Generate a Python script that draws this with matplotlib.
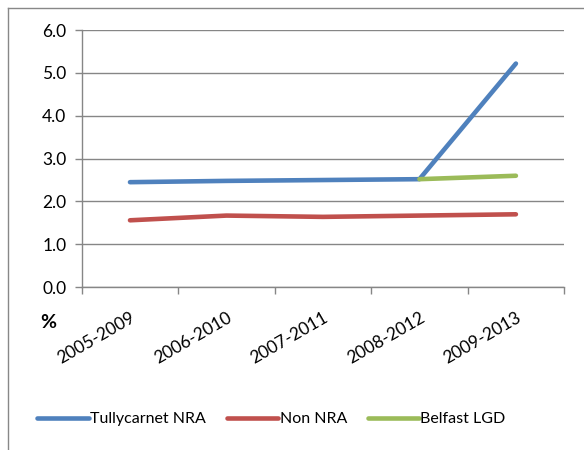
import numpy as np
import matplotlib
matplotlib.use('Agg')
import matplotlib.pyplot as plt
from matplotlib.lines import Line2D

# Datos
periods = ['2005-2009', '2006-2010', '2007-2011', '2008-2012', '2009-2013']
tullycarnet = [2.45, 2.48, 2.50, 2.52, 5.22]
non_nra = [1.56, 1.67, 1.64, 1.67, 1.70]
belfast = [np.nan, np.nan, np.nan, 2.52, 2.60]
y_ticks = [0.0, 1.0, 2.0, 3.0, 4.0, 5.0, 6.0]

plt.rcParams['font.family'] = ['Lato', 'DejaVu Sans']

fig = plt.figure(figsize=(5.84, 4.5), dpi=100)
ax = fig.add_axes([0.140, 0.362, 0.826, 0.571])

x = np.arange(len(periods))
lw = 3.3
ax.plot(x, tullycarnet, color='#4F81BD', lw=lw, solid_capstyle='round', zorder=3)
ax.plot(x, non_nra, color='#C0504D', lw=lw, solid_capstyle='round', zorder=3)
ax.plot(x, belfast, color='#9BBB59', lw=lw, solid_capstyle='round', zorder=4)

ax.set_xlim(-0.5, len(periods) - 0.5)
ax.set_ylim(0, 6)
ax.set_yticks(y_ticks)
ax.set_yticklabels([f'{v:.1f}' for v in y_ticks], fontsize=12.5)
ax.set_xticks(np.arange(-0.5, len(periods), 1.0))
ax.set_xticklabels([])
ax.set_xticks(x, minor=True)
ax.set_xticklabels(periods, minor=True, rotation=30, ha='right', va='top',
                   rotation_mode='anchor', fontsize=12.5)
ax.tick_params(axis='x', which='minor', length=0, pad=16)
ax.tick_params(axis='x', which='major', length=5, color='#868686', width=1)
ax.tick_params(axis='y', length=5, color='#868686', width=1, pad=6)

ax.grid(axis='y', color='#868686', lw=1)
ax.set_axisbelow(True)
for s in ['top', 'right']:
    ax.spines[s].set_visible(False)
for s in ['left', 'bottom']:
    ax.spines[s].set_color('#868686')
    ax.spines[s].set_linewidth(1)

fig.text(40 / 584, 1 - 323 / 450, '%', fontsize=14, fontweight='bold',
         ha='left', va='center')

# Leyenda
handles = [Line2D([], [], color=c, lw=lw, solid_capstyle='round')
           for c in ['#4F81BD', '#C0504D', '#9BBB59']]
fig.legend(handles, ['Tullycarnet NRA', 'Non NRA', 'Belfast LGD'],
           loc='center', bbox_to_anchor=(0.465, 1 - 419 / 450), ncol=3,
           frameon=False, fontsize=11.5, handlelength=3.2, handletextpad=0.1,
           columnspacing=1.3)

# Borde exterior
fig.add_artist(Line2D([8 / 584, 8 / 584], [0, 1 - 8 / 450], color='#888888', lw=1))
fig.add_artist(Line2D([8 / 584, 1], [1 - 8 / 450, 1 - 8 / 450], color='#888888', lw=1))

fig.savefig('out.png', dpi=100)
plt.close(fig)
